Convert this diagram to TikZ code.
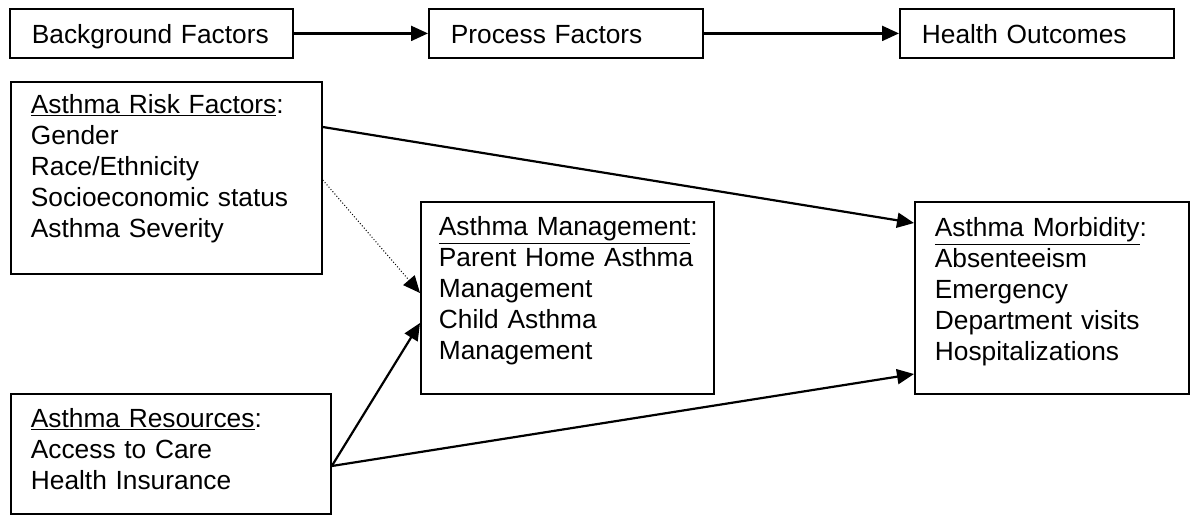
\documentclass[tikz,border=0pt]{standalone}
\usepackage{fontspec}
\setmainfont{Liberation Sans}
\usetikzlibrary{arrows.meta}

\begin{document}
\begin{tikzpicture}[x=1pt, y=-1pt,
		box/.style={draw, line width=1.8pt, anchor=north west, align=left, inner xsep=20pt, inner ysep=0pt, font=\fontsize{26.3}{30.8}\selectfont},
		headbox/.style={box, inner xsep=22pt, text height=35pt, text depth=14pt},
		link/.style={line width=2.2pt, -{Triangle[length=17pt, width=15pt]}}]
	\useasboundingbox (0,0) rectangle (1191,515);

	% stages along the top
	\node[headbox, text width=239pt] (bg) at (9,8) {Background Factors};
	\node[headbox, text width=230pt] (process) at (428,8) {Process Factors};
	\node[headbox, text width=230pt] (health) at (899,8) {Health Outcomes};

	\draw[link] (bg) -- (process);
	\draw[link] (process) -- (health);

	% factor boxes
	\node[box, text width=271pt, text height=32pt, text depth=160pt] (risk) at (10,81)
		{\underline{Asthma Risk Factors}:\\ Gender\\ Race/Ethnicity\\ Socioeconomic status\\ Asthma Severity};
	\node[box, inner xsep=18pt, text width=257pt, text height=34pt, text depth=158pt] (management) at (420,201)
		{\underline{Asthma Management}:\\ Parent Home Asthma\\ Management\\ Child Asthma\\ Management};
	\node[box, text width=234pt, text height=35pt, text depth=157pt] (morbidity) at (914,201)
		{\underline{Asthma Morbidity}:\\ Absenteeism\\ Emergency\\ Department visits\\ Hospitalizations};
	\node[box, text width=280pt, text height=34pt, text depth=86pt] (resources) at (10,393)
		{\underline{Asthma Resources}:\\ Access to Care\\ Health Insurance};

	\draw[link] ([yshift=-46pt]risk.north east) -- ([yshift=-22pt]morbidity.north west);
	\draw[link, line width=1pt, dotted] ([yshift=-99pt]risk.north east) -- ([yshift=-92pt]management.north west);
	\draw[link] ([yshift=-73pt]resources.north east) -- ([yshift=-122pt]management.north west);
	\draw[link] ([yshift=-73pt]resources.north east) -- ([yshift=-173pt]morbidity.north west);
\end{tikzpicture}
\end{document}
